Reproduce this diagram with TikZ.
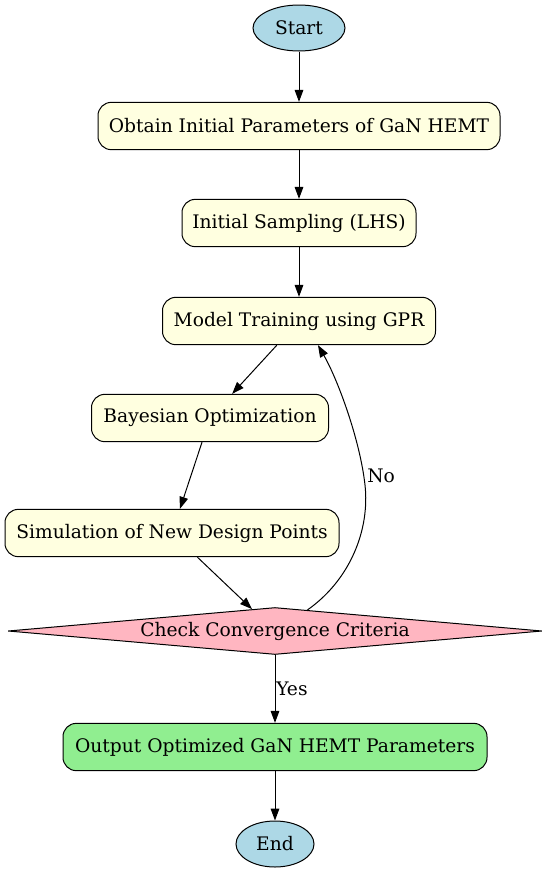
\documentclass[tikz,border=0pt]{standalone}
\usepackage{fontspec}
\setmainfont{DejaVu Serif}
\usepackage{tikz}
\usetikzlibrary{shapes.geometric,arrows.meta}
\definecolor{GVblue}{HTML}{ADD8E6}
\definecolor{GVyellow}{HTML}{FFFFE0}
\definecolor{GVpink}{HTML}{FFB6C1}
\definecolor{GVgreen}{HTML}{90EE90}
\begin{document}
\begin{tikzpicture}[x=0.75pt, y=-0.75pt, font=\fontsize{14pt}{17pt}\selectfont,
  terminal/.style={ellipse, draw, fill=GVblue, line width=0.75pt, inner sep=0pt, minimum height=34.5pt},
  stepbox/.style={rectangle, rounded corners=10pt, draw, fill=GVyellow, line width=0.75pt, minimum height=35.5pt, inner sep=0pt},
  decision/.style={diamond, draw, fill=GVpink, line width=0.75pt, aspect=11, inner sep=0pt, minimum width=400.5pt, minimum height=35.25pt},
  flow/.style={-{Triangle[length=9pt,width=6.5pt]}, line width=0.75pt},
  edgelabel/.style={anchor=west, inner sep=0pt}]
\useasboundingbox (0,0) rectangle (548,875);
% nodes
\node[terminal, minimum width=69pt] (start) at (299,28) {Start};
\node[stepbox, minimum width=301.5pt] (obtain) at (299,126) {Obtain Initial Parameters of GaN HEMT};
\node[stepbox, minimum width=175.5pt] (sampling) at (299,223) {Initial Sampling (LHS)};
\node[stepbox, minimum width=204.75pt] (training) at (299,321) {Model Training using GPR};
\node[stepbox, minimum width=177.75pt] (bayes) at (210,418) {Bayesian Optimization};
\node[stepbox, minimum width=250.5pt] (simulation) at (172,533) {Simulation of New Design Points};
\node[decision] (check) at (275,631) {Check Convergence Criteria};
\node[stepbox, fill=GVgreen, minimum width=318pt] (output) at (275,747) {Output Optimized GaN HEMT Parameters};
\node[terminal, minimum width=58.5pt] (end) at (275,844) {End};
% edges
\draw[flow] (start) -- (obtain);
\draw[flow] (obtain) -- (sampling);
\draw[flow] (sampling) -- (training);
\draw[flow] (training) -- (bayes);
\draw[flow] (bayes) -- (simulation);
\draw[flow] (simulation) -- (check);
\coordinate (loopmid) at (365,485);
\draw[flow] (check.33) .. controls (350,580) and (370,530) .. (loopmid)
  .. controls (360,440) and (338,380) .. ([xshift=14.25pt]training.south);
\node[edgelabel] (no) at (367,476) {No};
\draw[flow] (check) -- (output);
\node[edgelabel] (yes) at (276,689) {Yes};
\draw[flow] (output) -- (end);
\end{tikzpicture}
\end{document}
